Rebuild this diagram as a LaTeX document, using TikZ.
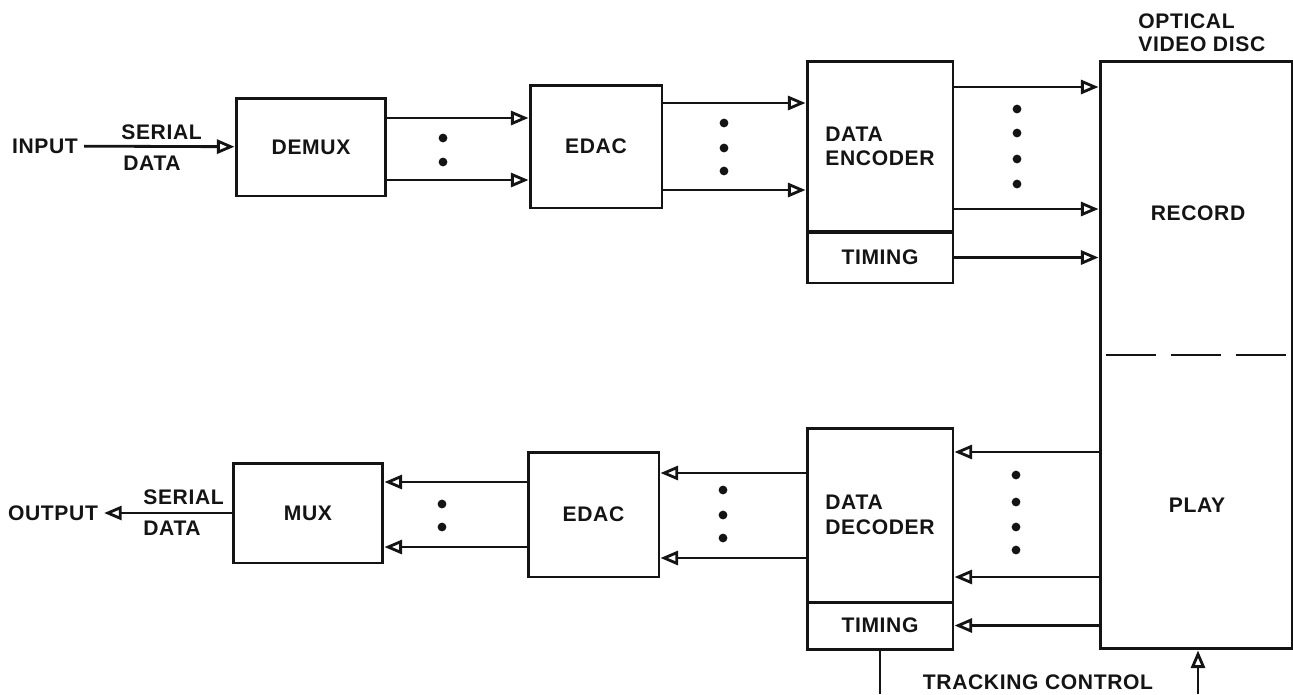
\documentclass[tikz,border=0pt]{standalone}
\usepackage{fontspec}
\setmainfont{Liberation Sans}[LetterSpace=3]
\usetikzlibrary{arrows.meta,calc,positioning}
\definecolor{ink}{HTML}{141414}

\begin{document}
\begin{tikzpicture}[x=0.02cm,y=-0.02cm,font=\fontsize{12}{14}\selectfont\bfseries,
  blk/.style={draw=ink,line width=1.7pt,inner sep=0pt,text=ink},
  sig/.style={draw=ink,line width=1.6pt,-{Triangle[open,length=10pt,width=8pt]}},
  wire/.style={draw=ink,line width=1.6pt},
  lbl/.style={text=ink}]
\useasboundingbox (0,0) rectangle (1293,694);
% record side
\node[lbl] (in) at (45,146) {INPUT};
\node[blk,minimum width=3cm,minimum height=1.96cm] (demux) at (311,147) {DEMUX};
\node[blk,minimum width=2.64cm,minimum height=2.46cm] (edac) at (596,146.5) {EDAC};
\node[blk,minimum width=2.92cm,minimum height=3.42cm,align=left] (enc) at (880,146.5) {DATA\\ENCODER};
\node[blk,minimum width=2.92cm,minimum height=1.02cm] (enct) at (880,257.5) {TIMING};
\node[lbl,anchor=west,inner sep=0pt] (sin) at (121,132) {SERIAL};
\node[lbl,anchor=west,inner sep=0pt] (din) at (123,163) {DATA};
\draw[sig] (in) -- (demux);
\draw[sig] (demux.east |- 0,118) -- (edac.west |- 0,118);
\draw[sig] (demux.east |- 0,180) -- (edac.west |- 0,180);
\draw[sig] (edac.east |- 0,103) -- (enc.west |- 0,103);
\draw[sig] (edac.east |- 0,190) -- (enc.west |- 0,190);
% the disc
\node[blk,minimum width=3.84cm,minimum height=11.76cm] (disc) at (1196,355) {};
\node[lbl,anchor=west,align=left,inner sep=0pt,font=\fontsize{12}{13}\selectfont\bfseries] (odl) at (1138,33) {OPTICAL\\VIDEO DISC};
\node[lbl] (rec) at (1198,213) {RECORD};
\node[lbl] (play) at (1197,505) {PLAY};
\draw[ink,line width=1.6pt,dash pattern=on 1cm off 0.3cm] ([xshift=0.14cm]disc.west) -- (disc.east);
\draw[sig] (enc.east |- 0,87) -- (disc.west |- 0,87);
\draw[sig] (enc.east |- 0,209) -- (disc.west |- 0,209);
\draw[sig] (enct) -- (disc.west |- enct);
% play side
\node[blk,minimum width=2.92cm,minimum height=3.48cm,align=left] (dec) at (880,515) {DATA\\DECODER};
\node[blk,minimum width=2.92cm,minimum height=0.94cm] (dect) at (880,625.5) {TIMING};
\node[blk,minimum width=2.62cm,minimum height=2.5cm] (edacb) at (593.5,514.5) {EDAC};
\node[blk,minimum width=3cm,minimum height=2cm] (mux) at (308,513) {MUX};
\node[lbl] (out) at (53,513) {OUTPUT};
\node[lbl,anchor=west,inner sep=0pt] (sout) at (143,497) {SERIAL};
\node[lbl,anchor=west,inner sep=0pt] (dout) at (143,528) {DATA};
\draw[sig] (disc.west |- 0,452) -- (dec.east |- 0,452);
\draw[sig] (disc.west |- 0,577) -- (dec.east |- 0,577);
\draw[sig] (disc.west |- dect) -- (dect);
\draw[sig] (dec.west |- 0,473) -- (edacb.east |- 0,473);
\draw[sig] (dec.west |- 0,558) -- (edacb.east |- 0,558);
\draw[sig] (edacb.west |- 0,482) -- (mux.east |- 0,482);
\draw[sig] (edacb.west |- 0,547) -- (mux.east |- 0,547);
\draw[sig] (mux) -- (out);
% tracking control
\coordinate (trka) at (880,694);
\coordinate (trkb) at (1198,694);
\node[lbl] (trk) at (1038,682) {TRACKING CONTROL};
\draw[wire] (dect.south) -- (trka);
\draw[sig] (trkb) -- (disc.south -| trkb);
% dots
\foreach \y in {138,162} \fill[ink] (443,\y) circle (2.5pt);
\foreach \y in {123,148,171} \fill[ink] (724,\y) circle (2.5pt);
\foreach \y in {109,133,159,184} \fill[ink] (1017,\y) circle (2.5pt);
\foreach \y in {475,502,527,550} \fill[ink] (1016,\y) circle (2.5pt);
\foreach \y in {490,515,538} \fill[ink] (723,\y) circle (2.5pt);
\foreach \y in {504,527} \fill[ink] (442,\y) circle (2.5pt);
\end{tikzpicture}
\end{document}
